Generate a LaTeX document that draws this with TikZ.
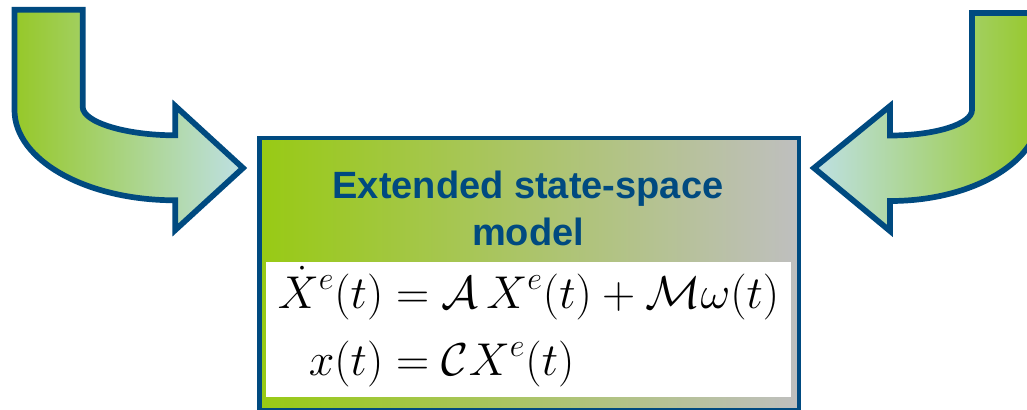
\RequirePackage{fix-cm}
\documentclass[tikz,border=0pt]{standalone}
\usepackage{amsmath}
\usepackage{fontspec}
\newfontfamily\titlefont{Liberation Sans}
\definecolor{darkblue}{RGB}{0,74,128}
\definecolor{boxgreen}{RGB}{152,202,20}
\definecolor{boxgray}{RGB}{191,191,191}
\definecolor{arrowgreen}{RGB}{150,200,40}
\definecolor{arrowcyan}{RGB}{190,224,228}

\begin{document}
\begin{tikzpicture}[x=0.5pt,y=-0.5pt,
    bendarrow/.style={draw=darkblue, line width=2.85pt, line join=miter}]
  \clip (0,0) rectangle (1027,409);
  % arrow coming in from the left
  \path[bendarrow, left color=arrowgreen, right color=arrowcyan]
    (14.5,9.7) -- (82.7,9.7) -- (82.7,107)
    .. controls (82.7,122) and (125,135.3) .. (175.3,135.3)
    -- (175.3,106) -- (243,168) -- (175.3,230) -- (175.3,200.3)
    .. controls (86,200.3) and (14.5,160) .. (14.5,110) -- cycle;
  % arrow coming in from the right
  \path[bendarrow, left color=arrowcyan, right color=arrowgreen]
    (1040,13) -- (972,13) -- (972,110)
    .. controls (972,124) and (935,135.5) .. (890,135.5)
    -- (890,106) -- (814,168) -- (890,231) -- (890,201)
    .. controls (975,201) and (1040,160) .. (1040,112) -- cycle;
  \node (model) [draw=darkblue, line width=2.25pt, left color=boxgreen, right color=boxgray,
    minimum width=269.75pt, minimum height=136pt, inner sep=0pt] at (529,274) {};
  \node (title) [font=\titlefont\bfseries\fontsize{19}{23.5}\selectfont, text=darkblue,
    align=center] at (528,208) {Extended state-space\\model};
  \node (eqs) [fill=white, minimum width=262.5pt, minimum height=67.5pt, inner sep=0pt]
    at (528.5,329.5) {\fontsize{23}{30.5}\selectfont
    $\begin{aligned}
      \dot{X}^e(t) &= \mathcal{A}\,X^e(t)+\mathcal{M}\omega(t)\\
      x(t) &= \mathcal{C}X^e(t)
    \end{aligned}$};
\end{tikzpicture}
\end{document}
